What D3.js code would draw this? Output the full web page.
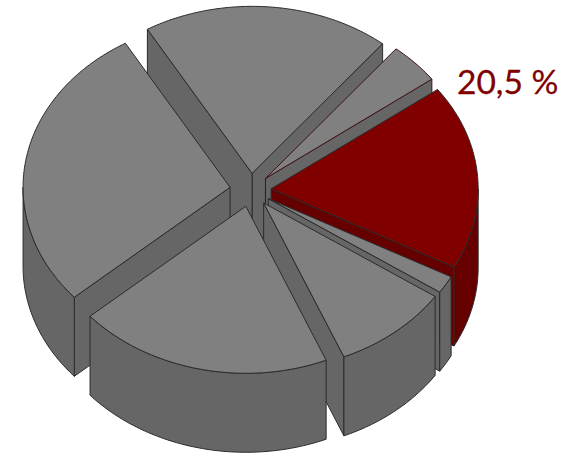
<!DOCTYPE html>
<html>
<head>
<meta charset="utf-8">
<script src="https://cdn.jsdelivr.net/npm/d3@7"></script>
<style>
  html, body { margin: 0; background: #fff; }
  svg { display: block; }
</style>
</head>
<body>
<div id="container"></div>
<script>
// Slices clockwise, starting with the highlighted one.
// Shares are read from the drawn sweep of each slice, not from the label.
const sliceNames = ["highlight", "sliver", "lowerRight", "bottom", "left", "top", "small"];
const sliceShares = [17.9, 1.7, 9.2, 19.9, 28.0, 19.3, 4.0];
const highlighted = ["highlight"];
const redEdged = ["small"];
const labelText = "20,5 %";

const width = 576;
const height = 456;
const centerX = 250.5;
const centerY = 190;
const radiusX = 207;
const radiusY = 167;
const depth = 79;
const explode = 0.1;
const startDeg = 53.5;

const x = d3.scaleLinear().domain([-1, 1]).range([centerX - radiusX, centerX + radiusX]);
const y = d3.scaleLinear().domain([-1, 1]).range([centerY + radiusY, centerY - radiusY]);

const pie = d3.pie()
  .sort(null)
  .value(d => d.share)
  .startAngle(startDeg * Math.PI / 180)
  .endAngle((startDeg + 360) * Math.PI / 180);

const slices = pie(sliceNames.map((name, i) => ({ name, share: sliceShares[i] })));

const line = d3.line();

// angle is clockwise from 12 o'clock, same as d3.pie
function rim(a, r, ox, oy, drop) {
  return [x(ox + r * Math.sin(a)), y(oy + r * Math.cos(a)) + drop];
}

function arcPoints(a0, a1, ox, oy, drop) {
  const n = Math.max(2, Math.ceil((a1 - a0) * 60));
  return d3.range(n + 1).map(i => rim(a0 + (a1 - a0) * i / n, 1, ox, oy, drop));
}

const svg = d3.select("#container")
  .append("svg")
  .attr("width", width)
  .attr("height", height);

// Back to front
const ordered = slices.slice().sort((a, b) =>
  d3.descending(Math.cos((a.startAngle + a.endAngle) / 2), Math.cos((b.startAngle + b.endAngle) / 2)));

const groups = svg.selectAll("g.slice")
  .data(ordered)
  .join("g")
  .attr("class", "slice")
  .attr("stroke", d => redEdged.includes(d.data.name) ? "#3d1414" : "#2b2b2b")
  .attr("stroke-width", 1)
  .attr("stroke-linejoin", "round");

groups.each(function (d) {
  const g = d3.select(this);
  const isRed = highlighted.includes(d.data.name);
  const topColor = isRed ? "#800000" : "#808080";
  const sideColor = isRed ? "#660000" : "#666666";
  const mid = (d.startAngle + d.endAngle) / 2;
  const ox = explode * Math.sin(mid);
  const oy = explode * Math.cos(mid);
  const apex = rim(0, 0, ox, oy, 0);
  const apexLow = rim(0, 0, ox, oy, depth);

  // Radial walls, only the ones facing the viewer
  const walls = [];
  if (Math.sin(d.endAngle) > 0) walls.push(d.endAngle);
  if (Math.sin(d.startAngle) < 0) walls.push(d.startAngle);
  walls.forEach(a => {
    g.append("path")
      .attr("fill", sideColor)
      .attr("d", line([apex, rim(a, 1, ox, oy, 0), rim(a, 1, ox, oy, depth), apexLow]) + "Z");
  });

  // Outer wall, front half of the rim only
  const from = Math.max(d.startAngle, Math.PI / 2);
  const to = Math.min(d.endAngle, 3 * Math.PI / 2);
  if (to > from) {
    g.append("path")
      .attr("fill", sideColor)
      .attr("d", line(arcPoints(from, to, ox, oy, 0).concat(arcPoints(from, to, ox, oy, depth).reverse())) + "Z");
  }

  g.append("path")
    .attr("fill", topColor)
    .attr("d", line([apex].concat(arcPoints(d.startAngle, d.endAngle, ox, oy, 0))) + "Z");
});

svg.append("text")
  .attr("x", 457)
  .attr("y", 94)
  .attr("font-family", "Lato, 'Open Sans', sans-serif")
  .attr("font-size", 33.5)
  .attr("fill", "#800000")
  .attr("stroke", "#800000")
  .attr("stroke-width", 0.3)
  .text(labelText);
</script>
</body>
</html>
